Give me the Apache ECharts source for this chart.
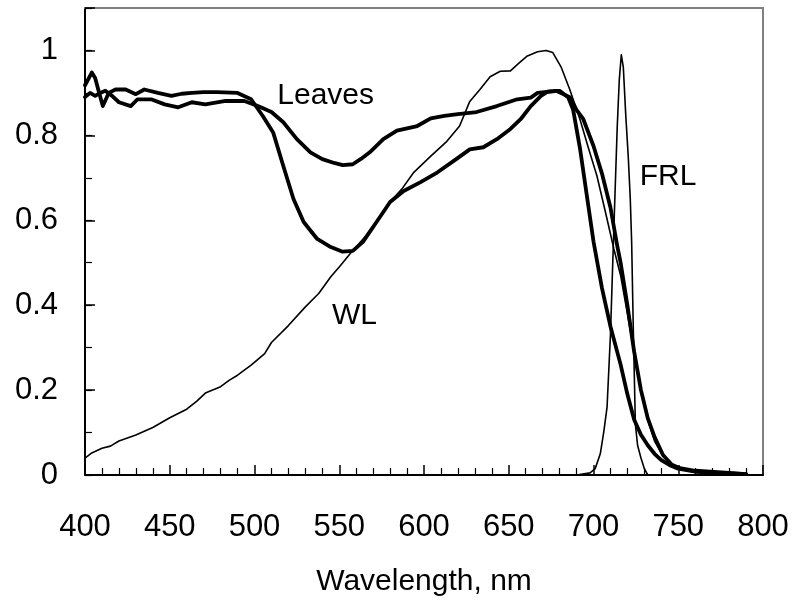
<!DOCTYPE html>
<html>
<head>
<meta charset="utf-8">
<script src="https://cdn.jsdelivr.net/npm/echarts@6/dist/echarts.min.js"></script>
<style>
html,body{margin:0;padding:0;background:#fff;}
#chart{width:794px;height:602px;}
</style>
</head>
<body>
<div id="chart"></div>
<script>
// White light (WL) spectrum
var wlNm  = [400,404,410,415,420,430,440,450,460,466,471,480,485,490,498,506,510,520,530,538,545,550,557,565,572,580,587,594,604,613,621,627,633,639,645,651,656,661,667,672,676,681,686,692,697,702,707,712,716,720,724,728,732,736,741,746,750,760,770,780];
var wlVal = [0.040,0.052,0.063,0.068,0.080,0.094,0.112,0.135,0.155,0.174,0.193,0.208,0.223,0.235,0.259,0.286,0.312,0.352,0.396,0.428,0.467,0.490,0.524,0.560,0.598,0.643,0.674,0.713,0.751,0.784,0.822,0.880,0.908,0.938,0.951,0.952,0.970,0.987,0.997,1.000,0.995,0.960,0.908,0.838,0.770,0.705,0.620,0.533,0.470,0.380,0.290,0.200,0.130,0.080,0.045,0.025,0.015,0.006,0.002,0.000];

// Far-red light (FRL) spectrum
var frlNm  = [690,698,701,704,706,708,710,712,714,715.2,716.4,717.6,719,720.5,721.7,722.5,723.5,724.7,726,728,730,732,740];
var frlVal = [0.000,0.005,0.015,0.050,0.100,0.160,0.330,0.580,0.820,0.930,0.990,0.960,0.850,0.750,0.650,0.550,0.340,0.120,0.070,0.040,0.015,0.000,0.000];

// Leaf spectrum 1 (shallow dip)
var leaf1Nm  = [400,403,406,409,412,416,420,427,431,439,447,455,463,471,483,494,502,510,517,525,533,540,547,552,558,563,568,576,584,596,604,612,620,631,643,655,663,667,678,686,690,694,700,705,710,714,716,720,724,728,732,736,741,746,751,760,780,790];
var leaf1Val = [0.890,0.900,0.893,0.900,0.905,0.893,0.878,0.869,0.885,0.885,0.873,0.866,0.878,0.873,0.881,0.881,0.869,0.855,0.831,0.791,0.760,0.744,0.735,0.730,0.732,0.745,0.760,0.791,0.811,0.822,0.840,0.846,0.850,0.855,0.869,0.885,0.889,0.900,0.905,0.890,0.860,0.838,0.775,0.710,0.630,0.540,0.500,0.400,0.290,0.200,0.134,0.090,0.047,0.025,0.016,0.010,0.005,0.002];

// Leaf spectrum 2 (deep dip)
var leaf2Nm  = [400,404,406,408,410.5,414,418,424,430,435,443,451,457,463,470,478,490,498,505,511,517,523,529,537,545,552,558,564,572,580,588,598,608,619,627,635,643,651,657,663,669,673,680,685,688,692,696,700,705,710,716,720,724,728,732,736,740,745,750,760,780,790];
var leaf2Val = [0.918,0.948,0.935,0.905,0.869,0.900,0.908,0.908,0.897,0.908,0.900,0.893,0.898,0.900,0.902,0.902,0.900,0.885,0.845,0.807,0.728,0.650,0.596,0.556,0.537,0.526,0.528,0.549,0.596,0.643,0.669,0.690,0.713,0.744,0.767,0.772,0.791,0.815,0.838,0.869,0.893,0.903,0.905,0.890,0.860,0.770,0.660,0.550,0.440,0.350,0.260,0.190,0.130,0.095,0.070,0.050,0.035,0.023,0.015,0.008,0.004,0.002];

// Annotations
var noteText = ['Leaves','WL','FRL'];
var noteNm   = [542,559,744];
var noteVal  = [0.894,0.376,0.703];

var xTickLabels = [400,450,500,550,600,650,700,750,800];
var yTickLabels = [0,0.2,0.4,0.6,0.8,1];

function zip(a,b){var r=[];for(var i=0;i<a.length;i++)r.push([a[i],b[i]]);return r;}

var FONT = '"Liberation Sans", Arial, sans-serif';
var chart = echarts.init(document.getElementById('chart'), null, {renderer:'canvas'});

function lineSeries(nm, val, w){
  return {type:'line', data:zip(nm,val), showSymbol:false, symbol:'none', smooth:false,
    xAxisIndex:0, yAxisIndex:0,
    lineStyle:{color:'#000', width:w, cap:'round', join:'round'}, z:3, silent:true};
}

var notes = [];
for (var i=0;i<noteText.length;i++) notes.push({value:[noteNm[i],noteVal[i]], name:noteText[i]});

chart.setOption({
  animation:false,
  backgroundColor:'#fff',
  grid:{left:85, right:31, top:8, bottom:125, containLabel:false},
  xAxis:[{
    type:'value', min:400, max:800, interval:50, position:'bottom',
    axisLine:{show:true, onZero:false, lineStyle:{color:'#000', width:2}},
    axisTick:{show:true, inside:true, length:10, lineStyle:{color:'#000', width:1.5}},
    minorTick:{show:true, splitNumber:5, length:7, lineStyle:{color:'#000', width:1.2}},
    splitLine:{show:false},
    axisLabel:{color:'#000', fontSize:31, fontFamily:FONT, margin:37,
      formatter:function(v){return xTickLabels.indexOf(Math.round(v))>=0?String(Math.round(v)):'';}},
    name:'Wavelength, nm', nameLocation:'middle', nameGap:92,
    nameTextStyle:{color:'#000', fontSize:30, fontFamily:FONT}
  },{
    type:'value', min:400, max:800, position:'top',
    axisLine:{show:true, onZero:false, lineStyle:{color:'#808080', width:2}},
    axisTick:{show:false}, axisLabel:{show:false}, splitLine:{show:false}
  }],
  yAxis:[{
    type:'value', min:0, max:1.1, interval:0.2, position:'left',
    axisLine:{show:true, onZero:false, lineStyle:{color:'#000', width:2}},
    axisTick:{show:true, inside:true, length:10, lineStyle:{color:'#000', width:1.5}},
    splitLine:{show:false},
    axisLabel:{color:'#000', fontSize:31, fontFamily:FONT, margin:27,
      formatter:function(v){
        var r=Math.round(v*10)/10;
        for(var k=0;k<yTickLabels.length;k++){ if(Math.abs(yTickLabels[k]-r)<1e-6 && Math.abs(v-r)<1e-6) return String(yTickLabels[k]); }
        return '';
      }}
  },{
    type:'value', min:0, max:1.1, interval:0.1, position:'left',
    axisLine:{show:false}, axisLabel:{show:false}, splitLine:{show:false},
    axisTick:{show:true, inside:true, length:7, lineStyle:{color:'#000', width:1.2}}
  },{
    type:'value', min:0, max:1.1, position:'right',
    axisLine:{show:true, onZero:false, lineStyle:{color:'#808080', width:2}},
    axisTick:{show:false}, axisLabel:{show:false}, splitLine:{show:false}
  }],
  series:[
    lineSeries(wlNm, wlVal, 1.6),
    lineSeries(frlNm, frlVal, 1.6),
    lineSeries(leaf1Nm, leaf1Val, 3.8),
    lineSeries(leaf2Nm, leaf2Val, 3.8),
    {type:'scatter', xAxisIndex:0, yAxisIndex:0, data:notes, symbolSize:0, silent:true, z:5,
      itemStyle:{color:'#000', opacity:1},
      label:{show:true, position:'inside', formatter:'{b}', color:'#000', opacity:1, textBorderWidth:0, textBorderColor:'transparent',
        fontSize:30, fontFamily:FONT}}
  ]
});
</script>
</body>
</html>
